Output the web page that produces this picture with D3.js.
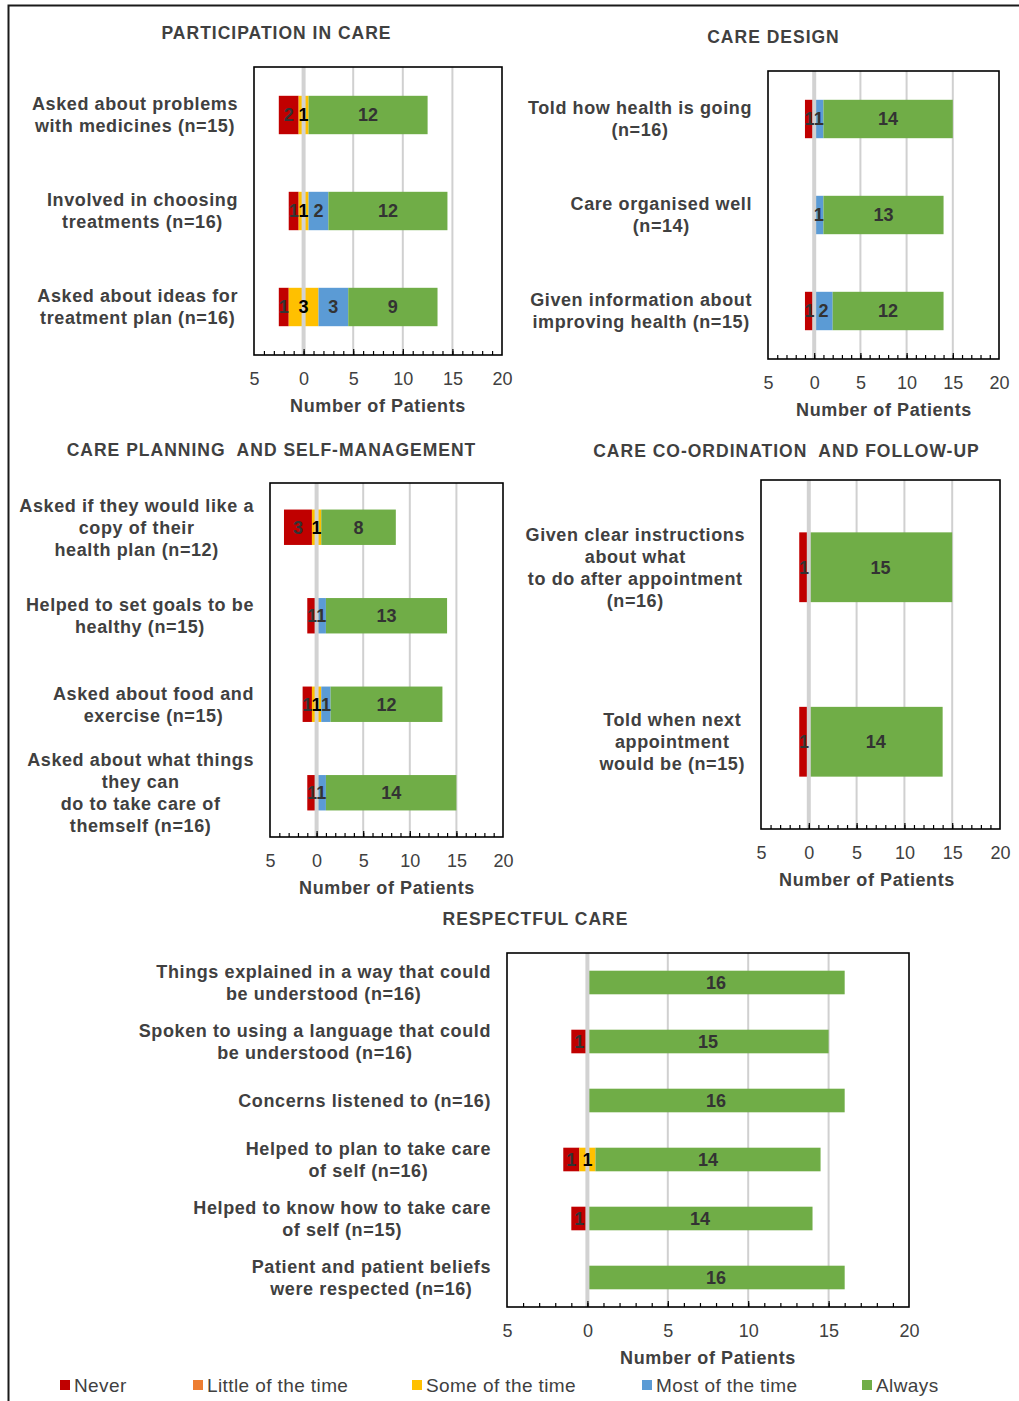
<!DOCTYPE html>
<html>
<head>
<meta charset="utf-8">
<script src="https://cdn.jsdelivr.net/npm/d3@7"></script>
<style>
  html, body { margin: 0; padding: 0; background: #fff; }
  svg { display: block; font-family: "Liberation Sans", Arial, sans-serif; }
</style>
</head>
<body>
<svg id="chart" width="1019" height="1401"></svg>
<script>
// Response categories, in stacking order (left to right)
const responseLevels = ["Never", "Little of the time", "Some of the time", "Most of the time", "Always"];
const responseColors = ["#c00000", "#ed7d31", "#ffc000", "#5b9bd5", "#70ad47"];

// Axis ticks (patients); the negative side is labelled by magnitude
const axisDomain = [-5, 20];
const majorTicks = [-5, 0, 5, 10, 15, 20];

// Counts per question: [Never, Little, Some, Most, Always]
const participationQuestions = [
  "Asked about problems\nwith medicines (n=15)",
  "Involved in choosing\ntreatments (n=16)",
  "Asked about ideas for\ntreatment plan (n=16)"
];
const participationCounts = [
  [2, 0, 1, 0, 12],
  [1, 0, 1, 2, 12],
  [1, 0, 3, 3, 9]
];

const designQuestions = [
  "Told how health is going\n(n=16)",
  "Care organised well\n(n=14)",
  "Given information about\nimproving health (n=15)"
];
const designCounts = [
  [1, 0, 0, 1, 14],
  [0, 0, 0, 1, 13],
  [1, 0, 0, 2, 12]
];

const planningQuestions = [
  "Asked if they would like a\ncopy of their\nhealth plan (n=12)",
  "Helped to set goals to be\nhealthy (n=15)",
  "Asked about food and\nexercise (n=15)",
  "Asked about what things\nthey can\ndo to take care of\nthemself (n=16)"
];
const planningCounts = [
  [3, 0, 1, 0, 8],
  [1, 0, 0, 1, 13],
  [1, 0, 1, 1, 12],
  [1, 0, 0, 1, 14]
];

const coordinationQuestions = [
  "Given clear instructions\nabout what\nto do after appointment\n(n=16)",
  "Told when next\nappointment\nwould be (n=15)"
];
const coordinationCounts = [
  [1, 0, 0, 0, 15],
  [1, 0, 0, 0, 14]
];

const respectQuestions = [
  "Things explained in a way that could\nbe understood (n=16)",
  "Spoken to using a language that could\nbe understood (n=16)",
  "Concerns listened to (n=16)",
  "Helped to plan to take care\nof self (n=16)",
  "Helped to know how to take care\nof self (n=15)",
  "Patient and patient beliefs\nwere respected (n=16)"
];
const respectCounts = [
  [0, 0, 0, 0, 16],
  [1, 0, 0, 0, 15],
  [0, 0, 0, 0, 16],
  [1, 0, 1, 0, 14],
  [1, 0, 0, 0, 14],
  [0, 0, 0, 0, 16]
];

// Panel placement on the page
const panels = [
  { title: "PARTICIPATION IN CARE", questions: participationQuestions, counts: participationCounts,
    x0: 254, x1: 502, y0: 67, y1: 355, titleX: 276, titleY: 33, axisTitleX: 378 },
  { title: "CARE DESIGN", questions: designQuestions, counts: designCounts,
    x0: 768, x1: 999, y0: 71, y1: 359, titleX: 773, titleY: 37, axisTitleX: 884 },
  { title: "CARE PLANNING  AND SELF-MANAGEMENT", questions: planningQuestions, counts: planningCounts,
    x0: 270, x1: 503, y0: 483, y1: 837, titleX: 271, titleY: 450, axisTitleX: 387 },
  { title: "CARE CO-ORDINATION  AND FOLLOW-UP", questions: coordinationQuestions, counts: coordinationCounts,
    x0: 761, x1: 1000, y0: 480, y1: 829, titleX: 786, titleY: 451, axisTitleX: 867 },
  { title: "RESPECTFUL CARE", questions: respectQuestions, counts: respectCounts,
    x0: 507, x1: 909, y0: 953, y1: 1307, titleX: 535, titleY: 919, axisTitleX: 708 }
];

const textColor = "#404040";
const svg = d3.select("#chart");

// Outer figure frame (left and top edges)
svg.append("path")
  .attr("d", "M8.5,1401 L8.5,5.5 L1019,5.5")
  .attr("fill", "none").attr("stroke", "#1a1a1a").attr("stroke-width", 2);

// Stack the segments so that half of "Some of the time" sits each side of zero
function segmentsFor(row) {
  let start = -(row[0] + row[1] + row[2] / 2);
  return row.map((v, i) => {
    const seg = { level: i, value: v, x0: start, x1: start + v };
    start += v;
    return seg;
  });
}

panels.forEach(p => {
  const g = svg.append("g");
  const x = d3.scaleLinear().domain(axisDomain).range([p.x0, p.x1]);
  const y = d3.scaleBand().domain(d3.range(p.questions.length))
    .range([p.y0, p.y1]).paddingInner(0.6).paddingOuter(0.3);

  // Title
  g.append("text").attr("x", p.titleX + 0.5).attr("y", p.titleY).attr("dy", "0.35em")
    .attr("text-anchor", "middle").attr("font-size", 17.5).attr("font-weight", "bold")
    .attr("letter-spacing", 1).attr("fill", textColor).attr("xml:space", "preserve").text(p.title);

  // Vertical gridlines
  g.selectAll(".grid").data([5, 10, 15]).join("line")
    .attr("x1", d => x(d)).attr("x2", d => x(d))
    .attr("y1", p.y0).attr("y2", p.y1)
    .attr("stroke", "#d0d0d0").attr("stroke-width", 2);

  // Bars
  const rows = p.counts.map((row, i) => ({
    i, cy: y(i) + y.bandwidth() / 2, segs: segmentsFor(row).filter(s => s.value > 0)
  }));
  rows.forEach(r => {
    g.selectAll(null).data(r.segs).join("rect")
      .attr("x", s => x(s.x0)).attr("width", s => x(s.x1) - x(s.x0))
      .attr("y", y(r.i)).attr("height", y.bandwidth())
      .attr("fill", s => responseColors[s.level]);
  });

  // Zero line drawn over the bars
  g.append("line").attr("x1", x(0)).attr("x2", x(0))
    .attr("y1", p.y0).attr("y2", p.y1)
    .attr("stroke", "#d2d2d2").attr("stroke-width", 4);

  // Segment value labels
  rows.forEach(r => {
    g.selectAll(null).data(r.segs).join("text")
      .attr("x", s => x((s.x0 + s.x1) / 2)).attr("y", r.cy).attr("dy", "0.36em")
      .attr("text-anchor", "middle").attr("font-size", 18).attr("font-weight", "bold")
      .attr("fill", s => s.level === 2 ? "#000" : "#333")
      .text(s => s.value);
  });

  // Plot frame
  g.append("rect").attr("x", p.x0).attr("y", p.y0)
    .attr("width", p.x1 - p.x0).attr("height", p.y1 - p.y0)
    .attr("fill", "none").attr("stroke", "#000").attr("stroke-width", 1.6);

  // Minor and major tick marks pointing into the plot
  const minor = d3.axisTop(x).tickValues(d3.range(axisDomain[0] + 1, axisDomain[1], 1))
    .tickSize(4).tickFormat("");
  g.append("g").attr("transform", `translate(0,${p.y1})`).call(minor)
    .call(a => a.select(".domain").remove())
    .call(a => a.selectAll("line").attr("stroke", "#000").attr("stroke-width", 1.2));
  const major = d3.axisTop(x).tickValues(majorTicks.slice(1, -1)).tickSize(6).tickFormat("");
  g.append("g").attr("transform", `translate(0,${p.y1})`).call(major)
    .call(a => a.select(".domain").remove())
    .call(a => a.selectAll("line").attr("stroke", "#000").attr("stroke-width", 1.2));

  // Tick labels
  const labels = d3.axisBottom(x).tickValues(majorTicks).tickSize(0).tickPadding(17)
    .tickFormat(d => Math.abs(d));
  g.append("g").attr("transform", `translate(0,${p.y1})`).call(labels)
    .call(a => a.select(".domain").remove())
    .call(a => a.selectAll("text").attr("font-size", 18).attr("fill", textColor)
      .attr("font-family", "Liberation Sans, Arial, sans-serif"));

  // Axis title
  g.append("text").attr("x", p.axisTitleX).attr("y", p.y1 + 51).attr("dy", "0.35em")
    .attr("text-anchor", "middle").attr("font-size", 18).attr("font-weight", "bold")
    .attr("letter-spacing", 0.6).attr("fill", textColor).text("Number of Patients");

  // Question labels: centred lines, block right-aligned against the plot
  const lineH = 22;
  p.questions.forEach((q, i) => {
    const lines = q.split("\n");
    const t = g.append("text").attr("font-size", 18).attr("font-weight", "bold")
      .attr("letter-spacing", 0.6).attr("fill", textColor).attr("text-anchor", "middle");
    const cy = y(i) + y.bandwidth() / 2;
    lines.forEach((ln, k) => {
      t.append("tspan").attr("y", cy + (k - (lines.length - 1) / 2) * lineH)
        .attr("dy", "0.35em").text(ln);
    });
    const w = d3.max(t.selectAll("tspan").nodes(), n => n.getComputedTextLength());
    const right = p.x0 - 16;
    t.selectAll("tspan").attr("x", right - w / 2);
  });
});

// Legend
const legendX = [60, 193, 412, 642, 862];
const legend = svg.append("g").attr("transform", "translate(0,1385)");
responseLevels.forEach((name, i) => {
  legend.append("rect").attr("x", legendX[i]).attr("y", -5).attr("width", 10).attr("height", 10)
    .attr("fill", responseColors[i]);
  legend.append("text").attr("x", legendX[i] + 14).attr("y", 0).attr("dy", "0.35em")
    .attr("font-size", 19).attr("letter-spacing", 0.4).attr("fill", textColor).text(name);
});
</script>
</body>
</html>
